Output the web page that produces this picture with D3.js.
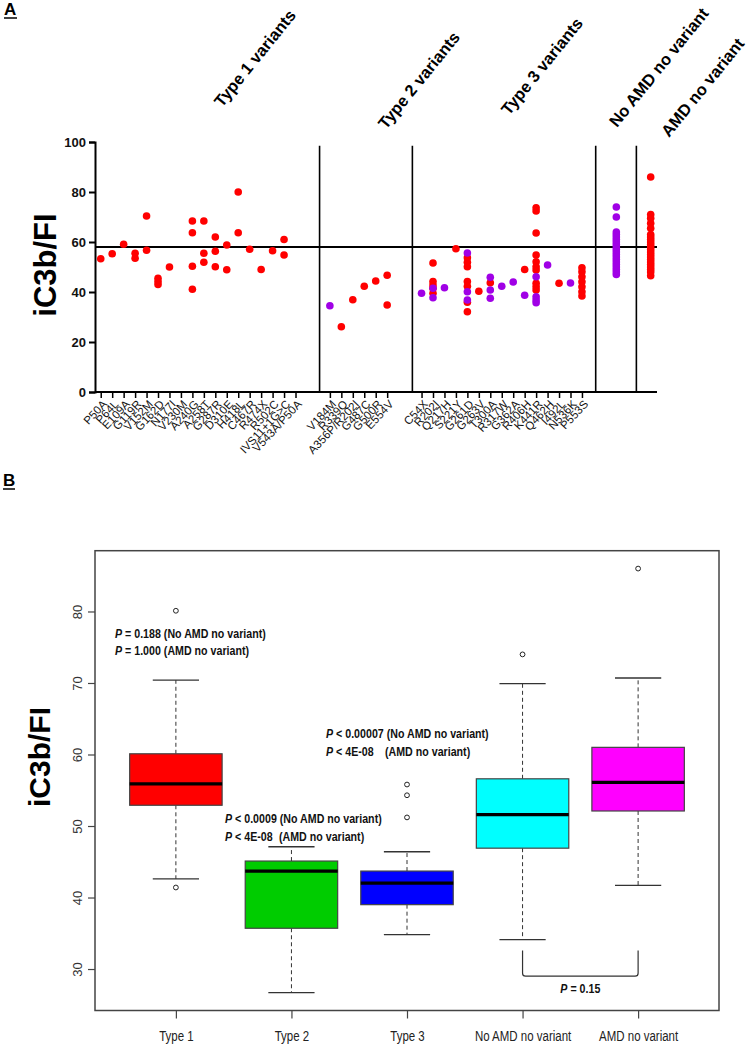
<!DOCTYPE html>
<html><head><meta charset="utf-8">
<script src="https://cdn.jsdelivr.net/npm/d3@7"></script>
<style>body{margin:0;background:#fff}svg{display:block}text{font-family:"Liberation Sans",Arial,sans-serif}</style>
</head><body>
<script>
// ---------- Panel A data ----------
const type1Labels = ["P50A","P64L","E109A","G119R","V152M","G162D","N177I","V230M","A240G","A258T","G287R","D310E","H418L","C467R","R474X","R502C","IVS11+1G>C","V543A/P50A"];
const type1Red = [[53.3],[55.3],[59.1],[55.5,53.5],[70.4,56.7],[45.5,44.2,43],[50],[],[68.4,63.7,50.3,41.1],[68.4,55.5,51.9],[62,56.3,50.1],[58.8,48.9],[80,63.7],[57.1],[49],[56.5],[61,54.8],[]];
const type1Purple = [[],[],[],[],[],[],[],[],[],[],[],[],[],[],[],[],[],[]];

const type2Labels = ["V184M","R339Q","A356P/R202I","G487C","G500R","E554V"];
const type2Red = [[],[26.1],[36.9],[42.3],[44.4],[46.7,34.8]];
const type2Purple = [[34.5],[],[],[],[],[]];

const type3Labels = ["C54X","R202I","Q217H","S221Y","G261D","G263V","T300A","R317W","G362A","R406H","K441R","Q462H","I492L","N536K","P553S"];
const type3Red = [[],[51.6,44.2,42.8,41.5,39.5],[],[57.3],[53.7,51.9,50.1,44.2,42.3,35.9,32.1],[40.3],[43.7],[],[],[49],[73.7,72.4,63.6,54.8,52.1,50.1,48.8,43.5,42.1,40.8],[],[43.5],[],[49.7,48.1,46.1,44.1,42.1,40.1,38.4]];
const type3Purple = [[39.5],[41.5,37.7],[41.7],[],[55.6,40.1,36.8],[],[45.9,40.8,37.5],[42.3],[44],[38.7],[46.1,38.1,36.8,35.7],[50.8],[],[43.6],[]];

const noAmdPurple = [74,70,64,63,62,61,60,59,58,57,56,55,54,53,52,51,50,49,48,47];
const amdRed = [86,71,69.5,67.5,65.5,63,62,61,60,59,58,57,56,55,54,53,52,51,50,49,48,46.5];

const groupHeaders = ["Type 1 variants","Type 2 variants","Type 3 variants","No AMD no variant","AMD no variant"];
const refLine = 58;
const yTicksA = [0,20,40,60,80,100];

// ---------- Panel B data ----------
const boxGroups = ["Type 1","Type 2","Type 3","No AMD no variant","AMD no variant"];
const boxColors = ["#ff0000","#00cc00","#0000ff","#00ffff","#ff00ff"];
const whiskLow = [42.6,26.7,34.8,34.1,41.7];
const q1 = [52.9,35.7,39.0,46.9,52.1];
const medians = [55.9,43.7,42.0,51.6,56.1];
const q3 = [60.1,45.1,43.7,56.6,61.0];
const whiskHigh = [70.4,47.1,46.4,69.9,70.7];
const outliers = [[80.1,41.4],[],[51.2,54.3,55.8],[74.0],[86.0]];
const yTicksB = [30,40,50,60,70,80];

const W = 750, H = 1048;
const NARROW_SCALE = 0.82;
const svg = d3.select("body").append("svg").attr("width", W).attr("height", H);

// ================= PANEL A =================
const xA = d3.scaleLinear().domain([-0.5, 48.55]).range([95, 657]);
const yA = d3.scaleLinear().domain([0, 100]).range([392, 142]);
const slots1 = d3.range(0, 18), slots2 = d3.range(20, 26), slots3 = d3.range(28, 43);
const slotNoAmd = 45, slotAmd = 48;
const dividers = [19.1, 27.2, 43.2, 46.75];

svg.append("text").attr("x", 4).attr("y", 15).attr("font-size", 17).attr("font-weight", "bold").text("A");
svg.append("line").attr("x1", 4).attr("x2", 17).attr("y1", 18).attr("y2", 18).attr("stroke", "#000").attr("stroke-width", 1.5);

const gyA = svg.append("g").attr("transform", "translate(95,0)")
  .call(d3.axisLeft(yA).tickValues(yTicksA).tickSize(6).tickPadding(3));
gyA.select(".domain").attr("stroke-width", 2);
gyA.selectAll(".tick line").attr("stroke-width", 2);
gyA.selectAll(".tick text").attr("font-size", 13).attr("font-weight", "bold").attr("fill", "#111")
  .attr("font-family", "Liberation Sans, Arial, sans-serif");

const allSlots = slots1.concat(slots2, slots3);
const allLabels = type1Labels.concat(type2Labels, type3Labels);
const gxA = svg.append("g").attr("transform", "translate(0,392)")
  .call(d3.axisBottom(xA).tickValues(allSlots).tickSize(6).tickFormat(""));
gxA.select(".domain").attr("stroke-width", 2).attr("d", `M95,0H657`);
gxA.selectAll(".tick line").attr("stroke-width", 1.5);
svg.append("g").selectAll("text").data(allSlots).join("text")
  .attr("transform", d => `translate(${xA(d) + 4},${402}) rotate(-47)`)
  .attr("text-anchor", "end").attr("dy", "0.35em")
  .attr("font-size", 11.5).attr("fill", "#111")
  .text((d, i) => allLabels[i]);

svg.append("g").selectAll("line").data(dividers).join("line")
  .attr("x1", d => xA(d)).attr("x2", d => xA(d))
  .attr("y1", yA(98.5)).attr("y2", yA(0))
  .attr("stroke", "#000").attr("stroke-width", 1.6);

svg.append("line").attr("x1", xA(-0.5)).attr("x2", xA(48.55)).attr("y1", yA(refLine)).attr("y2", yA(refLine))
  .attr("stroke", "#000").attr("stroke-width", 2);

function pts(slots, arr, color) {
  const out = [];
  slots.forEach((s, i) => (arr[i] || []).forEach(v => out.push({ s, v, color })));
  return out;
}
const RED = "#ff0000", PURPLE = "#a000e6";
const dots = [].concat(
  pts(slots1, type1Red, RED), pts(slots1, type1Purple, PURPLE),
  pts(slots2, type2Red, RED), pts(slots2, type2Purple, PURPLE),
  pts(slots3, type3Red, RED), pts(slots3, type3Purple, PURPLE),
  noAmdPurple.map(v => ({ s: slotNoAmd, v, color: PURPLE })),
  amdRed.map(v => ({ s: slotAmd, v, color: RED }))
);
svg.append("g").selectAll("circle").data(dots).join("circle")
  .attr("cx", d => xA(d.s)).attr("cy", d => yA(d.v)).attr("r", 3.8).attr("fill", d => d.color);

const headerPos = [[222, 108], [386, 130], [509, 116], [617, 128], [669, 138]];
svg.append("g").selectAll("text").data(groupHeaders).join("text")
  .attr("transform", (d, i) => `translate(${headerPos[i][0]},${headerPos[i][1]}) rotate(-51)`)
  .attr("font-size", 16.5).attr("font-weight", "bold").attr("fill", "#000").text(d => d);

svg.append("text").attr("transform", "translate(56,265) rotate(-90)").attr("text-anchor", "middle")
  .attr("font-size", 31).attr("font-weight", "bold").text("iC3b/FI");

// ================= PANEL B =================
svg.append("text").attr("x", 3).attr("y", 486).attr("font-size", 17).attr("font-weight", "bold").text("B");
svg.append("line").attr("x1", 3).attr("x2", 15).attr("y1", 489).attr("y2", 489).attr("stroke", "#000").attr("stroke-width", 1.5);

const xB = d3.scaleLinear().domain([0.3, 5.7]).range([95, 719]);
const yB = d3.scaleLinear().domain([24.2, 88.5]).range([1010.5, 550.7]);

svg.append("rect").attr("x", xB(0.3)).attr("y", yB(88.5)).attr("width", xB(5.7) - xB(0.3)).attr("height", yB(24.2) - yB(88.5))
  .attr("fill", "none").attr("stroke", "#444").attr("stroke-width", 1.5);

const gyB = svg.append("g").attr("transform", `translate(${xB(0.3)},0)`)
  .call(d3.axisLeft(yB).tickValues(yTicksB).tickSize(7).tickPadding(0));
gyB.select(".domain").remove();
gyB.selectAll(".tick line").attr("stroke", "#444").attr("stroke-width", 1.2);
gyB.selectAll(".tick text").attr("x", -18).attr("text-anchor", "middle")
  .attr("transform", "rotate(-90,-18,0)")
  .attr("dy", "0.35em")
  .attr("font-size", 13).attr("fill", "#333").attr("font-family", "Liberation Sans, Arial, sans-serif");

const gxB = svg.append("g").attr("transform", `translate(0,${yB(24.2)})`)
  .call(d3.axisBottom(xB).tickValues([1, 2, 3, 4, 5]).tickSize(8).tickPadding(13).tickFormat((d, i) => boxGroups[i]));
gxB.select(".domain").remove();
gxB.selectAll(".tick line").attr("stroke", "#444").attr("stroke-width", 1.2);
gxB.selectAll(".tick text").attr("font-size", 14).attr("fill", "#222")
  .attr("font-family", "Liberation Sans, Arial, sans-serif")
  .attr("transform", `scale(${NARROW_SCALE},1)`);

const bw = 0.8, cap = 0.4;
const gB = svg.append("g");
boxGroups.forEach((g, i) => {
  const c = i + 1;
  gB.append("line").attr("x1", xB(c)).attr("x2", xB(c)).attr("y1", yB(q3[i])).attr("y2", yB(whiskHigh[i]))
    .attr("stroke", "#333").attr("stroke-dasharray", "4,3").attr("stroke-width", 1);
  gB.append("line").attr("x1", xB(c)).attr("x2", xB(c)).attr("y1", yB(q1[i])).attr("y2", yB(whiskLow[i]))
    .attr("stroke", "#333").attr("stroke-dasharray", "4,3").attr("stroke-width", 1);
  [whiskHigh[i], whiskLow[i]].forEach(v => gB.append("line")
    .attr("x1", xB(c - cap / 2)).attr("x2", xB(c + cap / 2)).attr("y1", yB(v)).attr("y2", yB(v))
    .attr("stroke", "#333").attr("stroke-width", 1.3));
  gB.append("rect").attr("x", xB(c - bw / 2)).attr("width", xB(c + bw / 2) - xB(c - bw / 2))
    .attr("y", yB(q3[i])).attr("height", yB(q1[i]) - yB(q3[i]))
    .attr("fill", boxColors[i]).attr("stroke", "#444").attr("stroke-width", 1.2);
  gB.append("line").attr("x1", xB(c - bw / 2)).attr("x2", xB(c + bw / 2)).attr("y1", yB(medians[i])).attr("y2", yB(medians[i]))
    .attr("stroke", "#000").attr("stroke-width", 3.2);
  outliers[i].forEach(v => gB.append("circle").attr("cx", xB(c)).attr("cy", yB(v)).attr("r", 2.4)
    .attr("fill", "none").attr("stroke", "#222").attr("stroke-width", 1));
});

function pText(x, y, op, rest, restX, anchor) {
  const g = svg.append("g").attr("transform", `translate(${x},${y}) scale(${NARROW_SCALE},1)`);
  const t = g.append("text").attr("x", 0).attr("y", 0).attr("font-size", 13).attr("font-weight", "bold")
    .attr("fill", "#111").attr("text-anchor", anchor || "start");
  t.append("tspan").attr("font-style", "italic").text("P");
  t.append("tspan").text(" " + op);
  if (rest) {
    const r = t.append("tspan");
    if (restX != null) r.attr("x", (restX - x) / NARROW_SCALE).text(rest); else r.text(" " + rest);
  }
}
pText(115, 638, "= 0.188", "(No AMD no variant)");
pText(115, 655, "= 1.000", "(AMD no variant)");
pText(225, 823, "< 0.0009", "(No AMD no variant)");
pText(225, 841, "< 4E-08", "(AMD no variant)", 279);
pText(326, 738, "< 0.00007", "(No AMD no variant)");
pText(326, 756, "< 4E-08", "(AMD no variant)", 385);

const bx1 = xB(4), bx2 = xB(5);
svg.append("path")
  .attr("d", `M${bx1},${yB(32.6)}V${yB(29.0) - 3}Q${bx1},${yB(29.0)} ${bx1 + 3},${yB(29.0)}H${bx2 - 3}Q${bx2},${yB(29.0)} ${bx2},${yB(29.0) - 3}V${yB(32.6)}`)
  .attr("fill", "none").attr("stroke", "#333").attr("stroke-width", 1.2);
pText((bx1 + bx2) / 2, 993, "= 0.15", null, null, "middle");

svg.append("text").attr("transform", "translate(50,757) rotate(-90)").attr("text-anchor", "middle")
  .attr("font-size", 30).attr("font-weight", "bold").text("iC3b/FI");
</script>
</body></html>
